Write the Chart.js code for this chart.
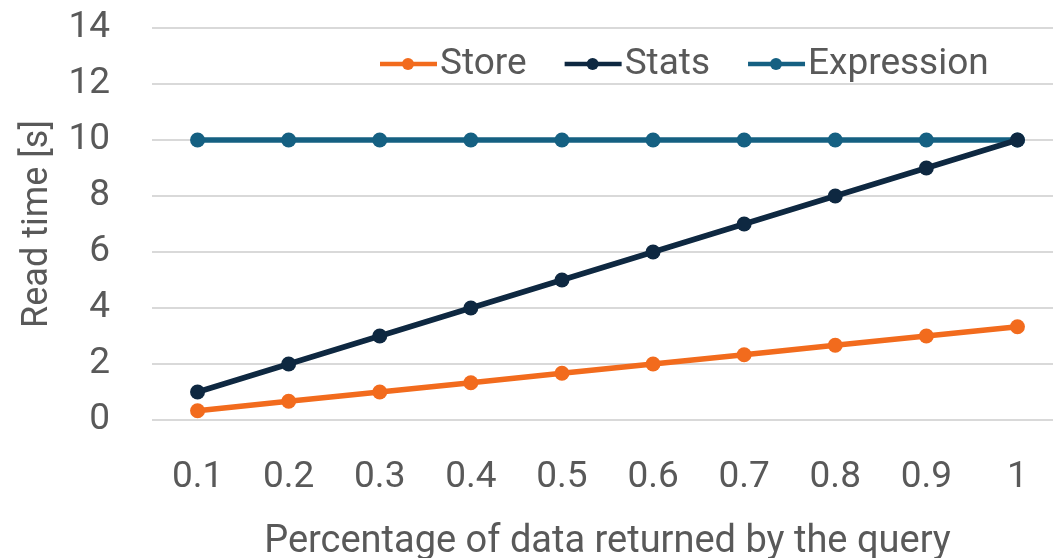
<!DOCTYPE html>
<html>
<head>
<meta charset="utf-8">
<script src="https://cdn.jsdelivr.net/npm/chart.js@4/dist/chart.umd.min.js"></script>
<style>
  html, body { margin: 0; padding: 0; background: #ffffff; overflow: hidden; }
  #wrap { position: relative; width: 1066px; height: 566px; }
</style>
</head>
<body>
<div id="wrap"><canvas id="chart"></canvas></div>
<script>
// Share of data returned by the query
const categories = ['0.1', '0.2', '0.3', '0.4', '0.5', '0.6', '0.7', '0.8', '0.9', '1'];
// Read times in seconds
const storeValues = [0.33, 0.67, 1, 1.33, 1.67, 2, 2.33, 2.67, 3, 3.33];
const statsValues = [1, 2, 3, 4, 5, 6, 7, 8, 9, 10];
const expressionValues = [10, 10, 10, 10, 10, 10, 10, 10, 10, 10];
const yTicks = [0, 2, 4, 6, 8, 10, 12, 14];

const FONT = 'Roboto, "Noto Sans", sans-serif';
const TEXT = '#595959';

function series(label, data, color) {
  return {
    label, data,
    borderColor: color, backgroundColor: color,
    borderWidth: 5.5, pointRadius: 7.5, pointHoverRadius: 7.5,
    pointBorderWidth: 0, pointBackgroundColor: color,
    tension: 0, fill: false
  };
}

// Legend drawn over the top of the plot area
const overlayLegend = {
  id: 'overlayLegend',
  afterDatasetsDraw(chart) {
    const ctx = chart.ctx;
    const y = 64;
    let x = 380;
    ctx.save();
    ctx.font = '37px ' + FONT;
    ctx.textBaseline = 'middle';
    ctx.textAlign = 'left';
    chart.data.datasets.forEach(ds => {
      const c = ds.borderColor;
      ctx.strokeStyle = c;
      ctx.lineWidth = 4.5;
      ctx.beginPath();
      ctx.moveTo(x, y);
      ctx.lineTo(x + 57, y);
      ctx.stroke();
      ctx.fillStyle = c;
      ctx.beginPath();
      ctx.arc(x + 28, y, 6, 0, Math.PI * 2);
      ctx.fill();
      ctx.fillStyle = TEXT;
      ctx.fillText(ds.label, x + 60, y + 1);
      x += 60 + ctx.measureText(ds.label).width + 38;
    });
    ctx.restore();
  }
};

new Chart(document.getElementById('chart'), {
  type: 'line',
  data: {
    labels: categories,
    datasets: [
      series('Store', storeValues, '#F26B1D'),
      series('Stats', statsValues, '#0E2841'),
      series('Expression', expressionValues, '#156082')
    ]
  },
  options: {
    responsive: true,
    maintainAspectRatio: false,
    animation: false,
    layout: { autoPadding: false, padding: { top: 28, right: 3, left: 0, bottom: 0 } },
    plugins: { legend: { display: false }, tooltip: { enabled: false } },
    scales: {
      x: {
        offset: true,
        grid: { display: false, drawTicks: false },
        border: { display: false },
        ticks: { color: TEXT, font: { family: FONT, size: 37 }, padding: 36, maxRotation: 0 },
        title: {
          display: true,
          text: 'Percentage of data returned by the query',
          color: TEXT,
          font: { family: FONT, size: 38 },
          padding: { top: 0, bottom: 1 }
        },
        afterFit(scale) {
          scale.height = 146;
          scale.paddingLeft = 0; scale.paddingRight = 0;
        }
      },
      y: {
        min: 0, max: 14,
        afterBuildTicks(scale) { scale.ticks = yTicks.map(v => ({ value: v })); },
        grid: { color: '#d9d9d9', lineWidth: 2, drawTicks: false },
        border: { display: false },
        ticks: { color: TEXT, font: { family: FONT, size: 37 }, padding: 42 },
        title: {
          display: true,
          text: 'Read time [s]',
          color: TEXT,
          font: { family: FONT, size: 36 },
          padding: { top: 16, bottom: 0 }
        },
        afterFit(scale) {
          scale.width = 152;
          scale.paddingTop = 0; scale.paddingBottom = 0;
        }
      }
    }
  },
  plugins: [overlayLegend]
});
</script>
</body>
</html>
